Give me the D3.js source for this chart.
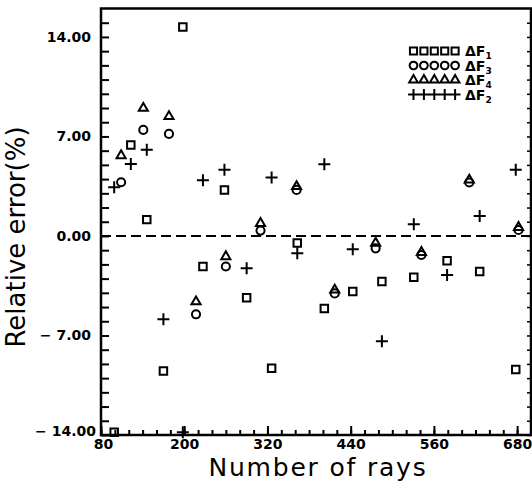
<!DOCTYPE html>
<html lang="en">
<head>
<meta charset="utf-8">
<title>Relative error vs number of rays</title>
<script src="https://d3js.org/d3.v7.min.js"></script>
<style>
  html, body { margin: 0; padding: 0; background: #fff; }
  .tick text { font-family: "DejaVu Sans", sans-serif; font-weight: bold; font-size: 14px; fill: #000; }
  .title { font-family: "DejaVu Sans", sans-serif; font-size: 26px; fill: #000; }
  .leg { font-family: "DejaVu Sans", sans-serif; font-weight: bold; font-size: 14px; }
</style>
</head>
<body>
<div id="chart"></div>
<script>
// rays for dF1 / dF2 (squares, pluses)
var raysA = [99, 123, 146, 170, 198, 227, 258, 290, 326, 363, 402, 443, 485, 531, 579, 626, 678];
var dF1 = [-13.8, 6.4, 1.15, -9.5, 14.7, -2.15, 3.24, -4.34, -9.3, -0.5, -5.1, -3.9, -3.2, -2.9, -1.75, -2.5, -9.4];
var dF2 = [3.43, 5.07, 6.06, -5.85, -13.8, 3.92, 4.65, -2.27, 4.11, -1.22, 5.05, -0.94, -7.4, 0.82, -2.75, 1.41, 4.65];

// rays for dF3 / dF4 (circles, triangles)
var raysB = [109, 141, 178, 217, 260, 310, 362, 417, 476, 542, 611, 682];
var dF3 = [3.78, 7.46, 7.18, -5.51, -2.15, 0.38, 3.24, -4.04, -0.87, -1.34, 3.76, 0.42];
var dF4 = [5.66, 8.99, 8.41, -4.62, -1.45, 0.89, 3.48, -3.8, -0.5, -1.15, 3.94, 0.61];

var yTicks = [-14, -7, 0, 7, 14];
var yTickLabels = ["\u2212 14.00", "\u2212 7.00", "0.00", "7.00", "14.00"];
var xTicks = [80, 200, 320, 440, 560, 680];
var xTickLabels = ["80", "200", "320", "440", "560", "680"];

var legendSubs = ["1", "3", "4", "2"];
var legendShapes = ["square", "circle", "triangle", "plus"];

var w = 532, h = 481;

var x = d3.scaleLinear().domain([80, 700]).range([101, 531]);
var y = d3.scaleLinear().domain([-14, 16]).range([435, 8.5]);

var svg = d3.select("#chart").append("svg")
  .attr("width", w).attr("height", h);

// minor ticks, y
svg.append("g")
  .attr("transform", "translate(" + x(80) + ",0)")
  .call(d3.axisLeft(y).tickValues(d3.range(-14, 16, 1)).tickSize(-8).tickFormat(""))
  .call(function(g) { g.select(".domain").remove(); })
  .selectAll("line").attr("stroke-width", 2);

// right side small ticks
svg.append("g")
  .attr("transform", "translate(" + x(700) + ",0)")
  .call(d3.axisRight(y).tickValues(d3.range(-14, 16, 1)).tickSize(-4).tickFormat(""))
  .call(function(g) { g.select(".domain").remove(); })
  .selectAll("line").attr("stroke-width", 1.5);

// y labels
var yLab = svg.append("g")
  .attr("transform", "translate(" + x(80) + ",0)")
  .call(d3.axisLeft(y).tickValues(yTicks).tickSize(0).tickPadding(10)
    .tickFormat(function(d, i) { return yTickLabels[i]; }));
yLab.select(".domain").remove();
yLab.selectAll(".tick").filter(function(d) { return d === -14; })
  .select("text").attr("dx", 5).attr("dy", "0.05em");

// x ticks
svg.append("g")
  .attr("transform", "translate(0," + y(-14) + ")")
  .call(d3.axisBottom(x).tickValues(d3.range(80, 700, 20)).tickSize(-5).tickFormat(""))
  .call(function(g) { g.select(".domain").remove(); })
  .selectAll("line").attr("stroke-width", 2);

var xLab = svg.append("g")
  .attr("transform", "translate(0," + y(-14) + ")")
  .call(d3.axisBottom(x).tickValues(xTicks).tickSize(-9).tickPadding(4)
    .tickFormat(function(d, i) { return xTickLabels[i]; }));
xLab.select(".domain").remove();
xLab.selectAll("line").attr("stroke-width", 2);
xLab.selectAll(".tick").filter(function(d) { return d === 80; })
  .select("text").attr("dx", 2);

// frame
svg.append("rect")
  .attr("x", x(80)).attr("y", y(16))
  .attr("width", x(700) - x(80)).attr("height", y(-14) - y(16))
  .attr("fill", "none").attr("stroke", "#000").attr("stroke-width", 2.5);

// zero line
svg.append("line")
  .attr("x1", x(80)).attr("x2", x(700))
  .attr("y1", y(0)).attr("y2", y(0))
  .attr("stroke", "#000").attr("stroke-width", 2)
  .attr("stroke-dasharray", "10,5");

// marker paths
function marker(shape, s) {
  if (shape === "plus") {
    var a = 6 * s;
    return "M" + (-a) + ",0H" + a + "M0," + (-a) + "V" + a;
  }
  if (shape === "square") return d3.symbol(d3.symbolSquare, 56 * s * s)();
  if (shape === "circle") return d3.symbol(d3.symbolCircle, 52 * s * s)();
  return d3.symbol(d3.symbolTriangle, 36 * s * s)();
}

function plotSeries(xs, ys, shape) {
  svg.append("g").selectAll("path")
    .data(ys)
    .enter()
    .append("path")
    .attr("transform", function(d, i) { return "translate(" + x(xs[i]) + "," + y(d) + ")"; })
    .attr("d", marker(shape, 1))
    .attr("fill", "none")
    .attr("stroke", "#000")
    .attr("stroke-width", 2);
}

plotSeries(raysA, dF1, "square");
plotSeries(raysA, dF2, "plus");
plotSeries(raysB, dF3, "circle");
plotSeries(raysB, dF4, "triangle");

// legend
var leg = svg.append("g");
legendShapes.forEach(function(shape, r) {
  var ly = 51 + r * 14.5;
  d3.range(5).forEach(function(k) {
    leg.append("path")
      .attr("transform", "translate(" + (413.5 + k * 10.4) + "," + ly + ")")
      .attr("d", marker(shape, shape === "plus" ? 0.9 : 0.95))
      .attr("fill", "none").attr("stroke", "#000").attr("stroke-width", 2);
  });
  var t = leg.append("text").attr("class", "leg")
    .attr("x", 465).attr("y", ly + 5);
  t.append("tspan").text("\u0394F");
  t.append("tspan").attr("dy", 3).attr("font-size", 9).text(legendSubs[r]);
});

// axis titles
svg.append("text").attr("class", "title")
  .attr("x", 318).attr("y", 476)
  .attr("text-anchor", "middle")
  .style("font-size", "25px")
  .style("letter-spacing", "1.8px")
  .text("Number of rays");

svg.append("text").attr("class", "title")
  .attr("transform", "translate(25,237) rotate(-90)")
  .attr("text-anchor", "middle")
  .text("Relative error(%)");
</script>
</body>
</html>
